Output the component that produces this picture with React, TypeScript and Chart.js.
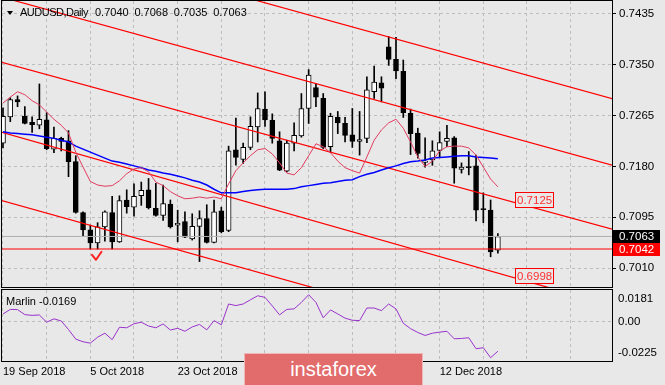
import React, { useEffect, useRef } from 'react';
import { Chart, registerables } from 'chart.js';

Chart.register(...registerables);

// ---------------- data ----------------
const SYMBOL = 'AUDUSD,Daily';

const OPEN = [
  0.7219, 0.7263, 0.7292, 0.7264, 0.7254, 0.7249, 0.7258, 0.7209, 0.7227, 0.7223,
  0.7188, 0.7103, 0.7074, 0.7052, 0.7079, 0.7103, 0.7054, 0.7124, 0.7112, 0.7131,
  0.7141, 0.7110, 0.7098, 0.7117, 0.7082, 0.7088, 0.7059, 0.7080, 0.7093, 0.7053,
  0.7106, 0.7073, 0.7208, 0.7192, 0.7212, 0.7246, 0.7276, 0.7257, 0.7223, 0.7172,
  0.7219, 0.7231, 0.7277, 0.7312, 0.7294, 0.7213, 0.7262, 0.7252, 0.7233, 0.7222,
  0.7227, 0.7305, 0.7320, 0.7380, 0.7359, 0.7339, 0.7269, 0.7236, 0.7187, 0.7191,
  0.7207, 0.7222, 0.7228, 0.7175, 0.7179, 0.7181, 0.7108, 0.7107, 0.7040,
];
const HIGH = [
  0.7278, 0.7295, 0.7298, 0.7280, 0.7263, 0.7318, 0.7270, 0.7246, 0.7229, 0.7240,
  0.7198, 0.7104, 0.7082, 0.7086, 0.7106, 0.7130, 0.7131, 0.7141, 0.7151, 0.7154,
  0.7160, 0.7152, 0.7149, 0.7124, 0.7107, 0.7104, 0.7101, 0.7106, 0.7116, 0.7124,
  0.7112, 0.7214, 0.7261, 0.7219, 0.7263, 0.7303, 0.7305, 0.7268, 0.7238, 0.7224,
  0.7253, 0.7302, 0.7342, 0.7319, 0.7302, 0.7269, 0.7272, 0.7262, 0.7277, 0.7272,
  0.7330, 0.7348, 0.7330, 0.7397, 0.7396, 0.7358, 0.7276, 0.7244, 0.7228, 0.7223,
  0.7238, 0.7249, 0.7230, 0.7186, 0.7205, 0.7199, 0.7136, 0.7124, 0.7068,
];
const LOW = [
  0.7211, 0.7255, 0.7280, 0.7251, 0.7237, 0.7243, 0.7208, 0.7203, 0.7206, 0.7163,
  0.7102, 0.7064, 0.7042, 0.7042, 0.7055, 0.7042, 0.7053, 0.7102, 0.7097, 0.7115,
  0.7109, 0.7097, 0.7090, 0.7077, 0.7054, 0.7061, 0.7057, 0.7021, 0.7052, 0.7052,
  0.7069, 0.7071, 0.7182, 0.7185, 0.7208, 0.7221, 0.7247, 0.7219, 0.7173, 0.7171,
  0.7206, 0.7229, 0.7252, 0.7280, 0.7210, 0.7204, 0.7235, 0.7221, 0.7212, 0.7199,
  0.7220, 0.7294, 0.7288, 0.7349, 0.7327, 0.7262, 0.7200, 0.7194, 0.7179, 0.7182,
  0.7195, 0.7213, 0.7152, 0.7169, 0.7166, 0.7089, 0.7086, 0.7029, 0.7035,
];
const CLOSE = [
  0.7264, 0.7292, 0.7288, 0.7252, 0.7250, 0.7259, 0.7210, 0.7227, 0.7222, 0.7188,
  0.7103, 0.7074, 0.7052, 0.7079, 0.7104, 0.7054, 0.7123, 0.7113, 0.7130, 0.7140,
  0.7111, 0.7098, 0.7118, 0.7079, 0.7085, 0.7062, 0.7080, 0.7093, 0.7053, 0.7104,
  0.7071, 0.7206, 0.7195, 0.7212, 0.7247, 0.7277, 0.7258, 0.7227, 0.7174, 0.7219,
  0.7232, 0.7277, 0.7333, 0.7296, 0.7212, 0.7264, 0.7253, 0.7232, 0.7222, 0.7225,
  0.7308, 0.7321, 0.7311, 0.7359, 0.7340, 0.7270, 0.7235, 0.7202, 0.7189, 0.7206,
  0.7220, 0.7227, 0.7177, 0.7179, 0.7178, 0.7107, 0.7108, 0.7037, 0.7063,
];
const RED_MA = [
  0.7286, 0.7296, 0.7305, 0.7300, 0.7290, 0.7283, 0.7271, 0.7259, 0.7249, 0.7236,
  0.7204, 0.7179, 0.7155, 0.7149, 0.7147, 0.7148, 0.7156, 0.7168, 0.7176, 0.7178,
  0.7171, 0.7154, 0.7148, 0.7138, 0.7131, 0.7126, 0.7127, 0.7129, 0.7127, 0.7129,
  0.7126, 0.7151, 0.7173, 0.7186, 0.7198, 0.7208, 0.7210, 0.7201, 0.7186, 0.7169,
  0.7166, 0.7178, 0.7198, 0.7218, 0.7213, 0.7203, 0.7189, 0.7178, 0.7173, 0.7169,
  0.7196, 0.7224, 0.7241, 0.7253, 0.7259, 0.7244, 0.7221, 0.7196, 0.7180, 0.7189,
  0.7206, 0.7213, 0.7214, 0.7214, 0.7211, 0.7199, 0.7179, 0.7159, 0.7146,
];
const BLUE_MA = [
  0.7238, 0.7236, 0.7235, 0.7234, 0.7233, 0.7231, 0.7229, 0.7227, 0.7224, 0.7221,
  0.7214, 0.7209, 0.7204, 0.7199, 0.7194, 0.7189, 0.7187, 0.7184, 0.7181, 0.7178,
  0.7174, 0.7172, 0.7169, 0.7167, 0.7164, 0.7161, 0.7157, 0.7154, 0.7149, 0.7142,
  0.7136, 0.7136, 0.7136, 0.7138, 0.7140, 0.7141, 0.7142, 0.7142, 0.7142, 0.7142,
  0.7143, 0.7146, 0.7148, 0.7150, 0.7152, 0.7153, 0.7155, 0.7157, 0.7158, 0.7163,
  0.7167, 0.7170, 0.7174, 0.7178, 0.7181, 0.7185, 0.7188, 0.7189, 0.7191, 0.7194,
  0.7195, 0.7196, 0.7197, 0.7198, 0.7198, 0.7196, 0.7195, 0.7194, 0.7193,
];
const MARLIN = [
  0.0044, 0.0070, 0.0069, 0.0040, 0.0036, 0.0038, -0.0003, 0.0016, 0.0004, -0.0045,
  -0.0100, -0.0115, -0.0123, -0.0089, -0.0066, -0.0103, -0.0032, -0.0035, -0.0012, -0.0003,
  -0.0025, -0.0035, -0.0013, -0.0048, -0.0038, -0.0055, -0.0030, -0.0016, -0.0047, 0.0006,
  -0.0018, 0.0101, 0.0092, 0.0101, 0.0125, 0.0148, 0.0139, 0.0090, 0.0039, 0.0070,
  0.0073, 0.0110, 0.0154, 0.0110, 0.0022, 0.0067, 0.0044, 0.0020, 0.0008, 0.0006,
  0.0078, 0.0078, 0.0063, 0.0101, 0.0073, -0.0009, -0.0040, -0.0062, -0.0079, -0.0066,
  -0.0060, -0.0055, -0.0098, -0.0096, -0.0092, -0.0155, -0.0149, -0.0206, -0.0169,
];

const PRICE_TICKS = [0.7435, 0.735, 0.7265, 0.718, 0.7095, 0.701];
const IND_TICKS = [0.0181, 0, -0.0225];
const IND_TICK_LABELS = ['0.0181', '0.00', '-0.0225'];
const GRID_BARS = [0, 6, 12, 18, 24, 30, 36, 42, 48, 54, 60, 66, 72, 78];
const X_LABEL_BARS = [0, 12, 24, 36, 48, 60];
const X_LABELS = ['19 Sep 2018', '5 Oct 2018', '23 Oct 2018', '8 Nov 2018', '26 Nov 2018', '12 Dec 2018'];

// channel lines: prices at the two anchor bars
const LINE_BARS = [-1, 85];
const CHANNEL_1 = [0.7578, 0.7289];
const CHANNEL_2 = [0.7466, 0.7178];
const CHANNEL_3 = [0.7357, 0.7071];
const CHANNEL_4 = [0.7240, 0.6943];
const CHANNEL_5 = [0.7126, 0.6833];
const HLINE_PRICE = 0.7042;
const PRICE_LABELS = [0.7125, 0.6998];
const PRICE_LABEL_BAR = 70.4;
const CHECK_BAR = 12.78;
const CHECK_PRICE = 0.7024;

const X_MIN = -0.137;
const X_MAX = 83.68;
const Y_MIN = 0.69785;
const Y_MAX = 0.74567;
const IND_MIN = -0.0225;
const IND_MAX = 0.0181;

// ---------------- style ----------------
const BG = '#e8e8e8';
const GRID = '#bdbdbd';
const FONT = '"Liberation Sans", Arial, sans-serif';
const LAST = OPEN.length - 1;

const frame = (ctx: any, a: any) => {
  ctx.strokeStyle = '#000';
  ctx.lineWidth = 1;
  ctx.setLineDash([]);
  ctx.strokeRect(Math.round(a.left) - 0.5, Math.round(a.top) - 0.5,
    Math.round(a.right - a.left) + 1, Math.round(a.bottom - a.top) + 1);
};

const mainOverlay = {
  id: 'mainOverlay',
  afterDraw(chart: any) {
    const { ctx, chartArea: a, scales } = chart;
    const xs = scales.x;
    const ys = scales.y;
    ctx.save();
    ctx.beginPath();
    ctx.rect(a.left, a.top, a.right - a.left, a.bottom - a.top);
    ctx.clip();
    // price labels on the channel
    ctx.font = `11.5px ${FONT}`;
    ctx.textBaseline = 'middle';
    ctx.textAlign = 'left';
    PRICE_LABELS.forEach((v) => {
      const x = Math.round(xs.getPixelForValue(PRICE_LABEL_BAR));
      const y = ys.getPixelForValue(v);
      const text = v.toFixed(4);
      const w = Math.round(ctx.measureText(text).width + 3);
      const top = Math.round(y - 7.5);
      ctx.fillStyle = BG;
      ctx.fillRect(x, top, w, 15);
      ctx.strokeStyle = '#ff0000';
      ctx.lineWidth = 1;
      ctx.strokeRect(x + 0.5, top + 0.5, w, 15);
      ctx.fillStyle = '#ff3030';
      ctx.fillText(text, x + 2, top + 8.5);
    });
    // check mark
    const cx = xs.getPixelForValue(CHECK_BAR);
    const cy = ys.getPixelForValue(CHECK_PRICE);
    ctx.strokeStyle = '#ff2020';
    ctx.lineWidth = 2;
    ctx.lineCap = 'round';
    ctx.lineJoin = 'round';
    ctx.beginPath();
    ctx.moveTo(cx - 4, cy - 5);
    ctx.lineTo(cx, cy);
    ctx.lineTo(cx + 5.5, cy - 8);
    ctx.stroke();
    ctx.restore();

    ctx.save();
    frame(ctx, a);
    // right axis price boxes
    ctx.font = `11.5px ${FONT}`;
    ctx.textBaseline = 'middle';
    ctx.textAlign = 'left';
    [
      { v: CLOSE[LAST], bg: '#000000' },
      { v: HLINE_PRICE, bg: '#ff0000' },
    ].forEach((b) => {
      const y = ys.getPixelForValue(b.v);
      const top = Math.round(y - 6.5);
      ctx.fillStyle = b.bg;
      ctx.fillRect(Math.round(a.right) + 1, top, 47, 13);
      ctx.fillStyle = '#ffffff';
      ctx.fillText(b.v.toFixed(4), Math.round(a.right) + 7, top + 7);
    });
    ctx.restore();
  },
};

const indOverlay = {
  id: 'indOverlay',
  afterDraw(chart: any) {
    const { ctx, chartArea: a, scales } = chart;
    const ys = scales.y;
    ctx.save();
    frame(ctx, a);
    ctx.font = `11.5px ${FONT}`;
    ctx.fillStyle = '#000';
    ctx.textBaseline = 'middle';
    ctx.textAlign = 'left';
    IND_TICKS.forEach((v, k) => {
      let py = ys.getPixelForValue(v);
      py = Math.min(Math.max(py, a.top + 9), a.bottom - 8);
      ctx.fillText(IND_TICK_LABELS[k], Math.round(a.right) + 6, py);
    });
    ctx.restore();
  },
};

const seg = (vals: number[], color: string, width: number) => ({
  type: 'line',
  data: LINE_BARS.map((b, k) => ({ x: b, y: vals[k] })),
  borderColor: color,
  borderWidth: width,
  pointRadius: 0,
  fill: false,
  tension: 0,
  order: 1,
});

const series = (vals: number[], color: string, width: number, order: number) => ({
  type: 'line',
  data: vals.map((v, i) => ({ x: i, y: v })),
  borderColor: color,
  borderWidth: width,
  pointRadius: 0,
  fill: false,
  tension: 0,
  order,
});

const xScaleBase = (showLabels: boolean) => ({
  type: 'linear',
  min: X_MIN,
  max: X_MAX,
  offset: false,
  afterBuildTicks: (s: any) => {
    s.ticks = GRID_BARS.map((v) => ({ value: v }));
  },
  ticks: showLabels
    ? {
        display: true,
        autoSkip: false,
        maxRotation: 0,
        minRotation: 0,
        align: 'start',
        padding: 4,
        color: '#000',
        font: { family: FONT, size: 11 },
        callback: (v: any) => {
          const k = X_LABEL_BARS.indexOf(Number(v));
          return k >= 0 ? X_LABELS[k] : '';
        },
      }
    : { display: false },
  grid: { color: GRID, lineWidth: 1, drawTicks: false, offset: false },
  border: { display: false, dash: [3, 3] },
  afterFit: (s: any) => {
    s.height = showLabels ? 24 : 0;
    s.paddingLeft = 0;
    s.paddingRight = 0;
  },
});

export default function App() {
  const mainRef = useRef<HTMLCanvasElement>(null);
  const indRef = useRef<HTMLCanvasElement>(null);

  useEffect(() => {
    const idx = OPEN.map((_, i) => i);
    const bodyColors = idx.map((i) => (CLOSE[i] > OPEN[i] ? '#ffffff' : '#000000'));

    const main = new Chart(mainRef.current as HTMLCanvasElement, {
      type: 'bar',
      data: {
        datasets: [
          series(RED_MA, '#e23a5e', 1, 0),
          series(BLUE_MA, '#0000ff', 1.5, 0),
          seg(CHANNEL_1, '#ff0000', 1.2),
          seg(CHANNEL_2, '#ff0000', 1.2),
          seg(CHANNEL_3, '#ff0000', 1.2),
          seg(CHANNEL_4, '#ff0000', 1.2),
          seg(CHANNEL_5, '#ff0000', 1.2),
          seg([HLINE_PRICE, HLINE_PRICE], '#ff0000', 1.2),
          seg([CLOSE[LAST], CLOSE[LAST]], '#b0b0b0', 1),
          {
            type: 'bar',
            data: idx.map((i) => ({ x: i, y: [OPEN[i], CLOSE[i]] })),
            backgroundColor: bodyColors,
            borderColor: '#000000',
            borderWidth: 1,
            borderSkipped: false,
            barThickness: 5,
            minBarLength: 1,
            grouped: false,
            order: 4,
          },
          {
            type: 'bar',
            data: idx.map((i) => ({ x: i, y: [LOW[i], HIGH[i]] })),
            backgroundColor: '#000000',
            borderWidth: 0,
            barThickness: 1,
            grouped: false,
            order: 5,
          },
        ] as any,
      },
      options: {
        responsive: false,
        animation: false,
        devicePixelRatio: 1,
        events: [],
        layout: { padding: { left: 2, top: 1, right: 0, bottom: 3 } },
        plugins: { legend: { display: false }, tooltip: { enabled: false } },
        scales: {
          x: xScaleBase(false),
          y: {
            type: 'linear',
            position: 'right',
            min: Y_MIN,
            max: Y_MAX,
            afterBuildTicks: (s: any) => {
              s.ticks = PRICE_TICKS.map((v) => ({ value: v }));
            },
            ticks: {
              autoSkip: false,
              padding: 3,
              color: '#000',
              font: { family: FONT, size: 11.5 },
              callback: (v: any) => Number(v).toFixed(4),
            },
            grid: {
              color: GRID,
              lineWidth: 1,
              drawTicks: true,
              tickLength: 4,
              tickColor: '#000',
              tickBorderDash: [],
              tickWidth: 1,
            },
            border: { display: false, dash: [3, 3] },
            afterFit: (s: any) => {
              s.width = 53;
              s.paddingTop = 0;
              s.paddingBottom = 0;
            },
          },
        } as any,
      },
      plugins: [mainOverlay],
    } as any);

    const ind = new Chart(indRef.current as HTMLCanvasElement, {
      type: 'line',
      data: {
        datasets: [series(MARLIN, '#9932cc', 1, 0)] as any,
      },
      options: {
        responsive: false,
        animation: false,
        devicePixelRatio: 1,
        events: [],
        layout: { padding: { left: 2, top: 3, right: 0, bottom: 0 } },
        plugins: { legend: { display: false }, tooltip: { enabled: false } },
        scales: {
          x: xScaleBase(true),
          y: {
            type: 'linear',
            position: 'right',
            min: IND_MIN,
            max: IND_MAX,
            afterBuildTicks: (s: any) => {
              s.ticks = [{ value: 0 }];
            },
            ticks: { display: false },
            grid: { color: GRID, lineWidth: 1, drawTicks: false },
            border: { display: false, dash: [3, 3] },
            afterFit: (s: any) => {
              s.width = 53;
              s.paddingTop = 0;
              s.paddingBottom = 0;
            },
          },
        } as any,
      },
      plugins: [indOverlay],
    } as any);

    return () => {
      main.destroy();
      ind.destroy();
    };
  }, []);

  const titleValues = [OPEN[LAST], HIGH[LAST], LOW[LAST], CLOSE[LAST]].map((v) => v.toFixed(4));
  const textBase: any = {
    position: 'absolute',
    fontSize: 11,
    lineHeight: '13px',
    color: '#000',
    whiteSpace: 'nowrap',
    fontFamily: FONT,
  };

  return (
    <div
      style={{
        position: 'fixed',
        left: 0,
        top: 0,
        width: 665,
        height: 385,
        background: BG,
        overflow: 'hidden',
        fontFamily: FONT,
      }}
    >
      <canvas ref={mainRef} width={665} height={290} style={{ position: 'absolute', left: 0, top: 0 }} />
      <canvas ref={indRef} width={665} height={98} style={{ position: 'absolute', left: 0, top: 287 }} />
      <div
        style={{
          position: 'absolute',
          left: 7,
          top: 11,
          width: 0,
          height: 0,
          borderLeft: '3.5px solid transparent',
          borderRight: '3.5px solid transparent',
          borderTop: '4.5px solid #000',
        }}
      />
      <div style={{ ...textBase, left: 20, top: 6, letterSpacing: '-0.5px' }}>{SYMBOL}</div>
      {titleValues.map((t, k) => (
        <div key={k} style={{ ...textBase, left: 95 + k * 39.4, top: 6 }}>
          {t}
        </div>
      ))}
      <div style={{ ...textBase, left: 6, top: 294.5 }}>{`Marlin ${MARLIN[LAST].toFixed(4)}`}</div>
      <div
        style={{
          position: 'absolute',
          left: 244,
          top: 353,
          width: 179,
          height: 34,
          boxSizing: 'border-box',
          background: '#e26b6b',
          border: '1px solid #efb8b8',
          color: '#ffffff',
          fontSize: 20,
          lineHeight: '31px',
          textAlign: 'center',
          fontFamily: FONT,
        }}
      >
        instaforex
      </div>
    </div>
  );
}
